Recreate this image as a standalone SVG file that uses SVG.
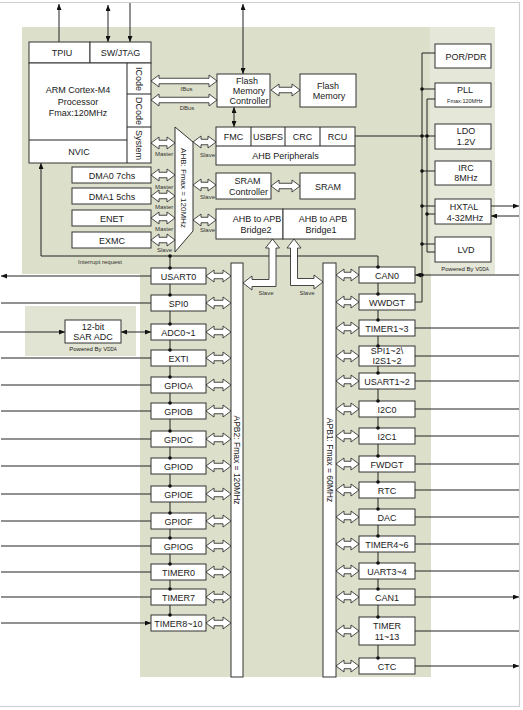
<svg xmlns="http://www.w3.org/2000/svg" width="523" height="710" viewBox="0 0 523 710">
<defs>
<style>
.bx{fill:#fff;stroke:#333;stroke-width:1}
.t{font-family:"Liberation Sans",Arial,sans-serif;font-size:9px;fill:#1a1a1a;text-anchor:middle}
.sm{font-size:6px}
.xs{font-size:5.5px}
.lb{font-family:"Liberation Sans",Arial,sans-serif;font-size:6px;fill:#333}
.ln{fill:none;stroke:#222;stroke-width:1}
.da{marker-start:url(#ah);marker-end:url(#ah)}
.ea{marker-end:url(#ah)}
.ha{fill:#fff;stroke:#333;stroke-width:0.9}
.dot{fill:#111}
</style>
<marker id="ah" viewBox="0 0 6 5" refX="6" refY="2.5" markerWidth="6" markerHeight="5" markerUnits="userSpaceOnUse" orient="auto-start-reverse"><path d="M0,0 L6,2.5 L0,5 Z" fill="#111"/></marker>
<path id="h23" fill="#fff" stroke="#333" stroke-width="0.9" d="M0,0 L8,-6 L8,-2.75 L15,-2.75 L15,-6 L23,0 L15,6 L15,2.75 L8,2.75 L8,6 Z"/>
<path id="h24" fill="#fff" stroke="#333" stroke-width="0.9" d="M0,0 L8,-6 L8,-2.75 L16,-2.75 L16,-6 L24,0 L16,6 L16,2.75 L8,2.75 L8,6 Z"/>
<path id="h25" fill="#fff" stroke="#333" stroke-width="0.9" d="M0,0 L8,-6 L8,-2.75 L17,-2.75 L17,-6 L25,0 L17,6 L17,2.75 L8,2.75 L8,6 Z"/>
<path id="h29" fill="#fff" stroke="#333" stroke-width="0.9" d="M0,0 L8,-6 L8,-2.75 L21,-2.75 L21,-6 L29,0 L21,6 L21,2.75 L8,2.75 L8,6 Z"/>
</defs>

<g id="background">
<rect x="0" y="0" width="523" height="710" fill="#fff"/>
<path d="M0,2.5 H519.5 V706.5 H0" fill="none" stroke="#cfcfcf" stroke-width="1.2"/>
<rect x="22" y="27" width="408" height="247" fill="#dcdfca"/>
<rect x="140" y="273" width="291" height="404" fill="#dcdfca"/>
<rect x="430" y="27" width="65" height="247" fill="#e5e7d8"/>
<rect x="25" y="306" width="111" height="50" fill="#e2e4d3"/>
</g>

<g id="connectors">
<!-- top external -->
<path class="ln ea" d="M59,42 V4"/>
<path class="ln da" d="M108,5 V42"/>
<path class="ln ea" d="M130,3 V42"/>
<path class="ln da" d="M243,4 V74"/>
<path class="ln da" d="M234,107 V127"/>
<!-- interrupt request -->
<path class="ln ea" d="M41,256 V163"/>
<path class="ln" d="M41,256 H378 V267"/>
<!-- chains -->
<path class="ln" d="M170,256 V615"/>
<path class="ln" d="M378,267 V658"/>
<!-- power lines -->
<path class="ln" d="M435,53 H422 V302 H415"/>
<path class="ln" d="M435,99 H427 V252 H435"/>
<path class="ln" d="M422,89 H435 M354,136 H435 M422,171 H435 M422,206 H435 M427,214 H435 M422,244 H435"/>
<path class="ln ea" d="M491,206 H519"/>
<path class="ln ea" d="M519,216 H491"/>
<!-- left external -->
<path class="ln da" d="M1,276 H151 M1,303 H151 M1,358 H151 M1,385 H151 M1,411 H151 M1,439 H151 M1,466 H151 M1,494 H151 M1,521 H151 M1,546 H151 M1,572 H151 M1,597 H151 M1,623 H151"/>
<path class="ln ea" d="M0,332 H65"/>
<path class="ln da" d="M121,332 H151"/>
<!-- right external -->
<path class="ln da" d="M415,275 H519 M415,328 H519 M415,356 H519 M415,409 H519 M415,436 H519 M415,464 H519 M415,490 H519 M415,517 H519 M415,544 H519 M415,571 H519 M415,631 H519 M415,666 H519"/>
<path class="ln ea" d="M415,381 H519 M415,597 H519"/>
<!-- hollow bus arrows -->
<path class="ha" d="M151,81 L159,75 L159,78.25 L209,78.25 L209,75 L217,81 L209,87 L209,83.75 L159,83.75 L159,87 Z"/>
<path class="ha" d="M151,100 L159,94 L159,97.25 L209,97.25 L209,94 L217,100 L209,106 L209,102.75 L159,102.75 L159,106 Z"/>
<use href="#h29" x="271" y="90"/>
<use href="#h29" x="271" y="186"/>
<use href="#h24" x="151" y="143"/>
<use href="#h24" x="151" y="175"/>
<use href="#h24" x="151" y="196"/>
<use href="#h24" x="151" y="218"/>
<use href="#h24" x="151" y="240"/>
<use href="#h23" x="193" y="142"/>
<use href="#h23" x="193" y="185"/>
<use href="#h23" x="193" y="220"/>
<path class="ha" d="M272.5,239 L279.5,248 L276,248 L276,286.5 L252,286.5 L252,290 L243,283 L252,276 L252,279.5 L269,279.5 L269,248 L265.5,248 Z"/>
<path class="ha" d="M294,239 L301,248 L297.5,248 L297.5,278.5 L314,278.5 L314,275 L323,282 L314,289 L314,285.5 L290.5,285.5 L290.5,248 L287,248 Z"/>
<use href="#h25" x="206" y="276"/>
<use href="#h25" x="206" y="303"/>
<use href="#h25" x="206" y="332"/>
<use href="#h25" x="206" y="358"/>
<use href="#h25" x="206" y="385"/>
<use href="#h25" x="206" y="411"/>
<use href="#h25" x="206" y="439"/>
<use href="#h25" x="206" y="466"/>
<use href="#h25" x="206" y="494"/>
<use href="#h25" x="206" y="521"/>
<use href="#h25" x="206" y="546"/>
<use href="#h25" x="206" y="572"/>
<use href="#h25" x="206" y="597"/>
<use href="#h25" x="206" y="623"/>
<use href="#h23" x="336" y="275"/>
<use href="#h23" x="336" y="302"/>
<use href="#h23" x="336" y="328"/>
<use href="#h23" x="336" y="356"/>
<use href="#h23" x="336" y="381"/>
<use href="#h23" x="336" y="409"/>
<use href="#h23" x="336" y="436"/>
<use href="#h23" x="336" y="464"/>
<use href="#h23" x="336" y="490"/>
<use href="#h23" x="336" y="517"/>
<use href="#h23" x="336" y="544"/>
<use href="#h23" x="336" y="571"/>
<use href="#h23" x="336" y="597"/>
<use href="#h23" x="336" y="631"/>
<use href="#h23" x="336" y="666"/>
<!-- labels -->
<text class="lb" x="186.5" y="91" text-anchor="middle">IBus</text>
<text class="lb" x="187" y="110" text-anchor="middle">DBus</text>
<text class="lb" x="155" y="156">Master</text>
<text class="lb" x="155" y="188.5">Master</text>
<text class="lb" x="155" y="208.5">Master</text>
<text class="lb" x="155" y="231">Master</text>
<text class="lb" x="157" y="252">Slave</text>
<text class="lb" x="215" y="157" text-anchor="end">Slave</text>
<text class="lb" x="215" y="198.5" text-anchor="end">Slave</text>
<text class="lb" x="215" y="232" text-anchor="end">Slave</text>
<text class="lb" x="266" y="295" text-anchor="middle">Slave</text>
<text class="lb" x="307" y="295" text-anchor="middle">Slave</text>
<text class="lb" x="100" y="264" text-anchor="middle">Interrupt request</text>
</g>

<g id="cpu">
<rect class="bx" x="29" y="42" width="61" height="21"/>
<text class="t" x="62" y="55.5">TPIU</text>
<rect class="bx" x="90" y="42" width="61" height="21"/>
<text class="t" x="120.5" y="55.5">SW/JTAG</text>
<rect class="bx" x="29" y="63" width="122" height="100"/>
<path class="ln" d="M127,63 V163 M127,94 H151 M127,127 H151 M29,140 H127" stroke="#333"/>
<text class="t" x="78" y="93">ARM Cortex-M4</text>
<text class="t" x="78" y="104.5">Processor</text>
<text class="t" x="78" y="116">Fmax:120MHz</text>
<text class="t" x="79" y="155">NVIC</text>
<text class="t" transform="translate(139,79) rotate(90)" y="3">ICode</text>
<text class="t" transform="translate(139,111) rotate(90)" y="3">DCode</text>
<text class="t" transform="translate(139,145) rotate(90)" y="3">System</text>
</g>

<g id="dma0"><rect class="bx" x="72" y="167" width="79" height="16"/><text class="t" x="112" y="178.5">DMA0 7chs</text></g>
<g id="dma1"><rect class="bx" x="72" y="188" width="79" height="16"/><text class="t" x="112" y="199.5">DMA1 5chs</text></g>
<g id="enet"><rect class="bx" x="72" y="210" width="79" height="16"/><text class="t" x="112" y="221.5">ENET</text></g>
<g id="exmc"><rect class="bx" x="72" y="232" width="79" height="16"/><text class="t" x="112" y="243.5">EXMC</text></g>

<g id="ahb">
<polygon class="bx" points="175,127 193,142 193,231 175,252"/>
<text class="t" font-size="8" transform="translate(184,188) rotate(90)" y="3" style="font-size:8px">AHB: Fmax = 120MHz</text>
</g>

<g id="flash-ctrl"><rect class="bx" x="217" y="74" width="53" height="33"/>
<text class="t" x="247" y="83.5">Flash</text><text class="t" x="249" y="93.5">Memory</text><text class="t" x="249" y="104">Controller</text></g>
<g id="flash"><rect class="bx" x="300" y="74" width="56" height="33"/>
<text class="t" x="328" y="88.5">Flash</text><text class="t" x="329" y="98.5">Memory</text></g>

<g id="ahb-periph">
<rect class="bx" x="216" y="127" width="139" height="38"/>
<path class="ln" stroke="#333" d="M216,146 H355 M251,127 V146 M285,127 V146 M320,127 V146"/>
<text class="t" x="233.5" y="140">FMC</text>
<text class="t" x="268" y="140">USBFS</text>
<text class="t" x="302.5" y="140">CRC</text>
<text class="t" x="337.5" y="140">RCU</text>
<text class="t" x="285.5" y="159">AHB Peripherals</text>
</g>
<g id="sram-ctrl"><rect class="bx" x="216" y="173" width="55" height="26"/>
<text class="t" x="247.5" y="184">SRAM</text><text class="t" x="248.5" y="194.5">Controller</text></g>
<g id="sram"><rect class="bx" x="300" y="173" width="55" height="26"/><text class="t" x="328" y="189.5">SRAM</text></g>
<g id="bridge2"><rect class="bx" x="216" y="209" width="67" height="30"/>
<text class="t" x="257" y="222">AHB to APB</text><text class="t" x="256" y="232.5">Bridge2</text></g>
<g id="bridge1"><rect class="bx" x="283" y="209" width="72" height="30"/>
<text class="t" x="323" y="222">AHB to APB</text><text class="t" x="321" y="232.5">Bridge1</text></g>

<g id="por"><rect class="bx" x="435" y="44" width="56" height="24"/><text class="t" x="466" y="59.5">POR/PDR</text></g>
<g id="pll"><rect class="bx" x="435" y="83" width="56" height="24"/><text class="t" x="465" y="93">PLL</text><text class="t xs" x="465" y="102.5">Fmax:120MHz</text></g>
<g id="ldo"><rect class="bx" x="435" y="124" width="56" height="25"/><text class="t" x="466" y="134">LDO</text><text class="t" x="466" y="144.5">1.2V</text></g>
<g id="irc"><rect class="bx" x="435" y="161" width="56" height="24"/><text class="t" x="466" y="171">IRC</text><text class="t" x="466" y="181">8MHz</text></g>
<g id="hxtal"><rect class="bx" x="435" y="199" width="56" height="25"/><text class="t" x="464" y="210">HXTAL</text><text class="t" x="465" y="220.5">4-32MHz</text></g>
<g id="lvd"><rect class="bx" x="435" y="237" width="56" height="25"/><text class="t" x="466" y="253">LVD</text></g>
<text class="t sm" x="465" y="271">Powered By V<tspan style="font-size:4.5px">DDA</tspan></text>

<g id="sar-adc"><rect class="bx" x="65" y="320" width="56" height="23"/>
<text class="t" x="93" y="329.5">12-bit</text><text class="t" x="93" y="340">SAR ADC</text></g>
<text class="t sm" x="93" y="350.5">Powered By V<tspan style="font-size:4.5px">DDA</tspan></text>

<g id="apb2-bus"><rect class="bx" x="231" y="263" width="12" height="414"/>
<text class="t" transform="translate(237,460) rotate(90)" y="3" style="font-size:8.5px">APB2: Fmax = 120MHz</text></g>
<g id="apb1-bus"><rect class="bx" x="323" y="263" width="13" height="414"/>
<text class="t" transform="translate(329.5,460) rotate(90)" y="3" style="font-size:8.5px">APB1: Fmax = 60MHz</text></g>

<g id="usart0"><rect class="bx" x="151" y="268" width="55" height="16"/><text class="t" x="178.5" y="279.5">USART0</text></g>
<g id="spi0"><rect class="bx" x="151" y="295" width="55" height="16"/><text class="t" x="178.5" y="306.5">SPI0</text></g>
<g id="adc"><rect class="bx" x="151" y="324" width="55" height="16"/><text class="t" x="178.5" y="335.5">ADC0~1</text></g>
<g id="exti"><rect class="bx" x="151" y="350" width="55" height="16"/><text class="t" x="178.5" y="361.5">EXTI</text></g>
<g id="gpioa"><rect class="bx" x="151" y="377" width="55" height="16"/><text class="t" x="178.5" y="388.5">GPIOA</text></g>
<g id="gpiob"><rect class="bx" x="151" y="403" width="55" height="16"/><text class="t" x="178.5" y="414.5">GPIOB</text></g>
<g id="gpioc"><rect class="bx" x="151" y="431" width="55" height="16"/><text class="t" x="178.5" y="442.5">GPIOC</text></g>
<g id="gpiod"><rect class="bx" x="151" y="458" width="55" height="16"/><text class="t" x="178.5" y="469.5">GPIOD</text></g>
<g id="gpioe"><rect class="bx" x="151" y="486" width="55" height="16"/><text class="t" x="178.5" y="497.5">GPIOE</text></g>
<g id="gpiof"><rect class="bx" x="151" y="513" width="55" height="16"/><text class="t" x="178.5" y="524.5">GPIOF</text></g>
<g id="gpiog"><rect class="bx" x="151" y="538" width="55" height="16"/><text class="t" x="178.5" y="549.5">GPIOG</text></g>
<g id="timer0"><rect class="bx" x="151" y="564" width="55" height="16"/><text class="t" x="178.5" y="575.5">TIMER0</text></g>
<g id="timer7"><rect class="bx" x="151" y="589" width="55" height="16"/><text class="t" x="178.5" y="600.5">TIMER7</text></g>
<g id="timer8"><rect class="bx" x="151" y="615" width="55" height="16"/><text class="t" x="178.5" y="626.5">TIMER8~10</text></g>

<g id="can0"><rect class="bx" x="359" y="267" width="56" height="16"/><text class="t" x="387" y="278.5">CAN0</text></g>
<g id="wwdgt"><rect class="bx" x="359" y="294" width="56" height="16"/><text class="t" x="387" y="305.5">WWDGT</text></g>
<g id="timer1"><rect class="bx" x="359" y="320" width="56" height="16"/><text class="t" x="387" y="331.5">TIMER1~3</text></g>
<g id="spi1"><rect class="bx" x="359" y="346" width="56" height="20"/><text class="t" x="387" y="353.5">SPI1~2\</text><text class="t" x="387" y="364">I2S1~2</text></g>
<g id="usart1"><rect class="bx" x="359" y="373" width="56" height="16"/><text class="t" x="387" y="384.5">USART1~2</text></g>
<g id="i2c0"><rect class="bx" x="359" y="401" width="56" height="16"/><text class="t" x="387" y="412.5">I2C0</text></g>
<g id="i2c1"><rect class="bx" x="359" y="428" width="56" height="16"/><text class="t" x="387" y="439.5">I2C1</text></g>
<g id="fwdgt"><rect class="bx" x="359" y="456" width="56" height="16"/><text class="t" x="387" y="467.5">FWDGT</text></g>
<g id="rtc"><rect class="bx" x="359" y="482" width="56" height="16"/><text class="t" x="387" y="493.5">RTC</text></g>
<g id="dac"><rect class="bx" x="359" y="509" width="56" height="16"/><text class="t" x="387" y="520.5">DAC</text></g>
<g id="timer4"><rect class="bx" x="359" y="536" width="56" height="16"/><text class="t" x="387" y="547.5">TIMER4~6</text></g>
<g id="uart3"><rect class="bx" x="359" y="563" width="56" height="16"/><text class="t" x="387" y="574.5">UART3~4</text></g>
<g id="can1"><rect class="bx" x="359" y="589" width="56" height="16"/><text class="t" x="387" y="600.5">CAN1</text></g>
<g id="timer11"><rect class="bx" x="359" y="617" width="56" height="28"/><text class="t" x="387" y="629">TIMER</text><text class="t" x="387" y="640">11~13</text></g>
<g id="ctc"><rect class="bx" x="359" y="658" width="56" height="16"/><text class="t" x="387" y="669.5">CTC</text></g>

<g id="junctions" class="dot">
<circle cx="170" cy="256" r="1.8"/><circle cx="378" cy="267" r="1.8"/>
<circle cx="170" cy="268" r="1.8"/><circle cx="170" cy="295" r="1.8"/><circle cx="170" cy="324" r="1.8"/><circle cx="170" cy="350" r="1.8"/><circle cx="170" cy="377" r="1.8"/><circle cx="170" cy="403" r="1.8"/><circle cx="170" cy="431" r="1.8"/><circle cx="170" cy="458" r="1.8"/><circle cx="170" cy="486" r="1.8"/><circle cx="170" cy="513" r="1.8"/><circle cx="170" cy="538" r="1.8"/><circle cx="170" cy="564" r="1.8"/><circle cx="170" cy="589" r="1.8"/><circle cx="170" cy="615" r="1.8"/>
<circle cx="378" cy="294" r="1.8"/><circle cx="378" cy="320" r="1.8"/><circle cx="378" cy="346" r="1.8"/><circle cx="378" cy="373" r="1.8"/><circle cx="378" cy="401" r="1.8"/><circle cx="378" cy="428" r="1.8"/><circle cx="378" cy="456" r="1.8"/><circle cx="378" cy="482" r="1.8"/><circle cx="378" cy="509" r="1.8"/><circle cx="378" cy="536" r="1.8"/><circle cx="378" cy="563" r="1.8"/><circle cx="378" cy="589" r="1.8"/><circle cx="378" cy="617" r="1.8"/><circle cx="378" cy="658" r="1.8"/>
<circle cx="422" cy="89" r="1.8"/><circle cx="422" cy="136" r="1.8"/><circle cx="427" cy="136" r="1.8"/><circle cx="422" cy="171" r="1.8"/><circle cx="422" cy="206" r="1.8"/><circle cx="427" cy="214" r="1.8"/><circle cx="422" cy="244" r="1.8"/><circle cx="422" cy="275" r="1.8"/>
</g>
</svg>
